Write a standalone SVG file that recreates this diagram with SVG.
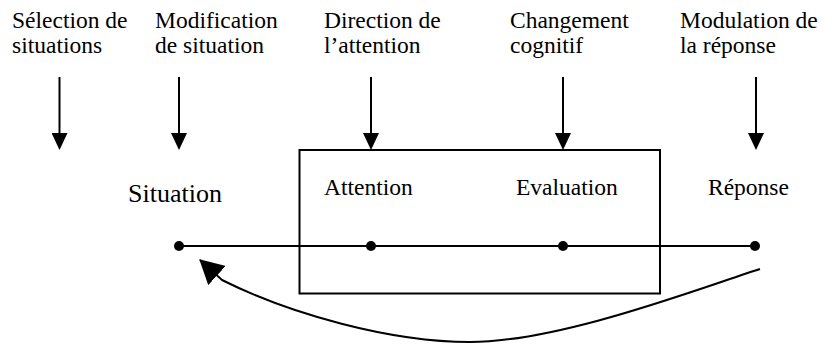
<svg xmlns="http://www.w3.org/2000/svg" width="825" height="345" viewBox="0 0 825 345" font-family="Liberation Serif, Times New Roman, serif">
<style>
text{font-size:23.5px;fill:#000}
.big{font-size:26px}
.ln{stroke:#000;stroke-width:2;fill:none}
.dot{fill:#000}
</style>
<defs>
<marker id="ah" markerUnits="userSpaceOnUse" markerWidth="17" markerHeight="16" viewBox="0 0 17 16" refX="0" refY="8" orient="auto">
<path d="M0,0 L17,8 L0,16 Z" fill="#000"/>
</marker>
<marker id="ahb" markerUnits="userSpaceOnUse" markerWidth="24" markerHeight="26" viewBox="0 0 24 26" refX="23" refY="13" orient="auto">
<path d="M0,0 L24,13 L0,26 Z" fill="#000"/>
</marker>
</defs>
<rect width="825" height="345" fill="#fff"/>
<g id="labels-top" font-family="Liberation Serif, serif">
<g id="selection"><text x="12" y="28">Sélection de</text><text x="12" y="53">situations</text></g>
<g id="modification"><text x="155" y="28">Modification</text><text x="155" y="53">de situation</text></g>
<g id="direction"><text x="324" y="28">Direction de</text><text x="324" y="53">l’attention</text></g>
<g id="changement"><text x="510" y="28">Changement</text><text x="510" y="53">cognitif</text></g>
<g id="modulation"><text x="680" y="28">Modulation de</text><text x="680" y="53">la réponse</text></g>
</g>
<g id="box"><rect class="ln" x="299.5" y="150" width="360.5" height="143.5"/></g>
<g id="connectors">
<line class="ln" x1="59.5" y1="77" x2="59.5" y2="133" marker-end="url(#ah)"/>
<line class="ln" x1="179" y1="77" x2="179" y2="133" marker-end="url(#ah)"/>
<line class="ln" x1="371" y1="77" x2="371" y2="133" marker-end="url(#ah)"/>
<line class="ln" x1="563" y1="77" x2="563" y2="133" marker-end="url(#ah)"/>
<line class="ln" x1="756" y1="77" x2="756" y2="133" marker-end="url(#ah)"/>
<line class="ln" x1="179" y1="246" x2="755" y2="246"/>
<path class="ln" d="M760,269 C700,288 560,342 470,342 C390,342 290,314 222,280 L200,260" marker-end="url(#ahb)"/>
</g>
<g id="situation"><text class="big" x="128" y="201.5">Situation</text><circle class="dot" cx="179" cy="246" r="5"/></g>
<g id="attention"><text x="324" y="195">Attention</text><circle class="dot" cx="371" cy="246" r="5"/></g>
<g id="evaluation"><text x="516" y="195">Evaluation</text><circle class="dot" cx="563" cy="246" r="5"/></g>
<g id="reponse"><text x="708" y="195">Réponse</text><circle class="dot" cx="755" cy="246" r="5"/></g>
</svg>
